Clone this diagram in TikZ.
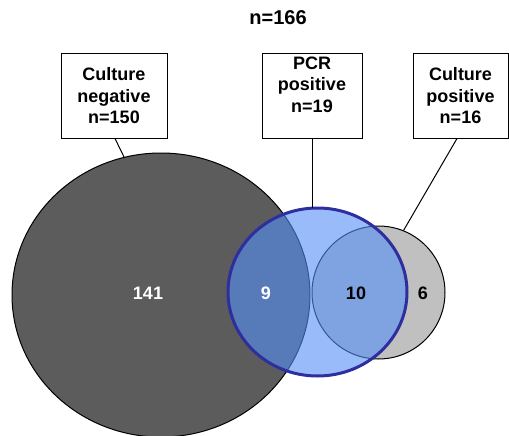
\documentclass[tikz,border=0pt]{standalone}
\usepackage{fontspec}
\setmainfont{Liberation Sans}
\usetikzlibrary{shapes.geometric}
\definecolor{darkg}{RGB}{92,92,92}
\definecolor{lightg}{RGB}{192,192,192}
\definecolor{pcrfill}{RGB}{85,142,247}
\definecolor{pcrline}{RGB}{46,46,158}
\begin{document}
\begin{tikzpicture}[x=1pt,y=-1pt,
  lbl/.style={draw=black,line width=1pt,fill=white,align=center,inner sep=0pt,font=\fontsize{18}{21.5}\selectfont\bfseries},
  num/.style={font=\fontsize{18}{20}\selectfont\bfseries},
  conn/.style={line width=1pt,draw=black}]
\useasboundingbox (0,0) rectangle (509,436);
% circles
\node[ellipse,draw=black,line width=1pt,fill=darkg,minimum width=298pt,minimum height=284pt,inner sep=0pt] (big) at (161,295) {};
\node[circle,draw=black,line width=1pt,fill=lightg,minimum size=133pt,inner sep=0pt] (cp) at (378.5,292.5) {};
\node[ellipse,fill=pcrfill,fill opacity=0.6,minimum width=179pt,minimum height=168pt,inner sep=0pt] (pcrf) at (317.5,292) {};
\node[ellipse,draw=pcrline,line width=3pt,minimum width=179pt,minimum height=168pt,inner sep=0pt] (pcr) at (317.5,292) {};
% numbers
\node[num,text=white] (n141) at (148,293) {141};
\node[num,text=white] (n9) at (266,293) {9};
\node[num,text=black] (n10) at (356,293) {10};
\node[num,text=black] (n6) at (423,293) {6};
% title
\node[font=\fontsize{20}{22}\selectfont\bfseries] (title) at (278,18) {n=166};
% boxes
\node[lbl,minimum width=106pt,minimum height=84pt] (b1) at (114,96) {Culture\\negative\\n=150};
\node[lbl,minimum width=100pt,minimum height=84pt] (b2) at (312,96) {PCR\\positive\\n=19\\[2pt]};
\node[lbl,minimum width=95pt,minimum height=84pt] (b3) at (460.5,96) {Culture\\positive\\n=16};
% connectors
\draw[conn] ([xshift=1pt]b1.south) -- (big.105.5);
\draw[conn] (b2.south) -- ([yshift=-1pt]b2.south |- pcr.north);
\draw[conn] ([xshift=-3.5pt]b3.south) -- (cp.68);
\end{tikzpicture}
\end{document}
